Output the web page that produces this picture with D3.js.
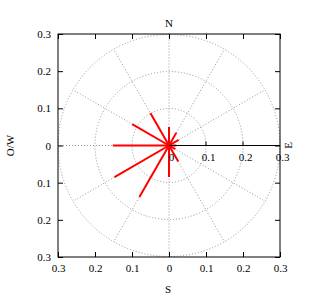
<!DOCTYPE html>
<html>
<head>
<meta charset="utf-8">
<script src="https://cdn.jsdelivr.net/npm/d3@7"></script>
<style>
  body { margin: 0; background: #fff; }
  text { font-family: "Liberation Serif", "DejaVu Serif", serif; font-size: 11px; fill: #000; }
</style>
</head>
<body>
<svg id="chart" width="321" height="299"></svg>
<script>
// directions in degrees (math convention, 0 = east, counter-clockwise)
var directions = [0, 30, 60, 90, 120, 150, 180, 210, 240, 270, 300, 330];
var magnitudes = [0.02, 0.03, 0.04, 0.05, 0.10, 0.115, 0.152, 0.17, 0.16, 0.085, 0.05, 0.02];

var axisTicks = [-0.3, -0.2, -0.1, 0, 0.1, 0.2, 0.3];
var axisTickLabels = ['0.3', '0.2', '0.1', '0', '0.1', '0.2', '0.3'];
var radialTicks = [0, 0.1, 0.2, 0.3];
var gridCircles = [0.1, 0.2, 0.3];
var gridAngles = [0, 30, 60, 90, 120, 150, 180, 210, 240, 270, 300, 330];

(function drawChart() {
  var svg = d3.select('#chart');

  var boxLeft = 58, boxRight = 280, boxTop = 34, boxBottom = 257;

  var x = d3.scaleLinear().domain([-0.3, 0.3]).range([boxLeft, boxRight]);
  var y = d3.scaleLinear().domain([-0.3, 0.3]).range([boxBottom, boxTop]);
  var r = d3.scaleLinear().domain([0, 0.3]).range([0, boxRight - x(0)]);

  var cx = x(0), cy = y(0);
  var rad = function(a) { return a * Math.PI / 180; };

  //--- grid
  var grid = svg.append('g')
    .attr('fill', 'none')
    .attr('stroke', '#959595')
    .attr('stroke-width', 1)
    .attr('stroke-dasharray', '1,2');

  grid.selectAll('circle')
    .data(gridCircles)
    .enter().append('circle')
    .attr('cx', cx)
    .attr('cy', cy)
    .attr('r', function(d) { return r(d); });

  grid.selectAll('line')
    .data(gridAngles.filter(function(a) { return a !== 0; }))
    .enter().append('line')
    .attr('x1', cx)
    .attr('y1', cy)
    .attr('x2', function(a) { return x(0.3 * Math.cos(rad(a))); })
    .attr('y2', function(a) { return y(0.3 * Math.sin(rad(a))); });

  //--- frame + axes
  var fmt = function(d, i) { return axisTickLabels[i]; };

  svg.append('g')
    .attr('transform', 'translate(' + boxLeft + ',0)')
    .call(d3.axisLeft(y).tickValues(axisTicks).tickFormat(fmt).tickSize(-5).tickSizeOuter(0).tickPadding(7));

  svg.append('g')
    .attr('transform', 'translate(0,' + boxBottom + ')')
    .call(d3.axisBottom(x).tickValues(axisTicks).tickFormat(fmt).tickSize(-5).tickSizeOuter(0).tickPadding(7));

  svg.append('g')
    .attr('transform', 'translate(' + boxRight + ',0)')
    .call(d3.axisRight(y).tickValues(axisTicks).tickFormat('').tickSize(-5).tickSizeOuter(0));

  svg.append('g')
    .attr('transform', 'translate(0,' + boxTop + ')')
    .call(d3.axisTop(x).tickValues(axisTicks).tickFormat('').tickSize(-5).tickSizeOuter(0));

  svg.selectAll('.tick text')
    .style('font-family', '"Liberation Serif", serif')
    .style('font-size', '11px')
    .attr('fill', '#000');
  svg.selectAll('.domain').remove();

  svg.append('rect')
    .attr('x', boxLeft)
    .attr('y', boxTop)
    .attr('width', boxRight - boxLeft)
    .attr('height', boxBottom - boxTop)
    .attr('fill', 'none')
    .attr('stroke', '#000')
    .attr('stroke-width', 1);

  //--- data vectors
  svg.append('g')
    .selectAll('line')
    .data(directions)
    .enter().append('line')
    .attr('x1', cx)
    .attr('y1', cy)
    .attr('x2', function(a, i) { return x(magnitudes[i] * Math.cos(rad(a))); })
    .attr('y2', function(a, i) { return y(magnitudes[i] * Math.sin(rad(a))); })
    .attr('stroke', '#ff0000')
    .attr('stroke-width', 2);

  //--- r axis
  var raxis = svg.append('g');
  raxis.append('line')
    .attr('x1', cx).attr('y1', cy)
    .attr('x2', boxRight).attr('y2', cy)
    .attr('stroke', '#000')
    .attr('stroke-width', 1);

  raxis.selectAll('.rtick')
    .data(radialTicks.slice(1, 3))
    .enter().append('line')
    .attr('class', 'rtick')
    .attr('x1', function(d) { return cx + r(d); })
    .attr('x2', function(d) { return cx + r(d); })
    .attr('y1', cy)
    .attr('y2', cy - 4)
    .attr('stroke', '#000');

  raxis.selectAll('text')
    .data(radialTicks)
    .enter().append('text')
    .attr('x', function(d) { return cx + r(d) + 2.5; })
    .attr('y', cy + 15)
    .attr('text-anchor', 'middle')
    .text(function(d) { return d3.format('')(d); });

  //--- compass labels
  svg.append('text').attr('x', cx).attr('y', 27).attr('text-anchor', 'middle').text('N');
  svg.append('text').attr('x', cx - 1).attr('y', 293).attr('text-anchor', 'middle').text('S');
  svg.append('text')
    .attr('transform', 'translate(14,' + cy + ') rotate(-90)')
    .attr('text-anchor', 'middle')
    .text('O/W');
  svg.append('text')
    .attr('transform', 'translate(292,' + cy + ') rotate(-90)')
    .attr('text-anchor', 'middle')
    .text('E');
})();
</script>
</body>
</html>
